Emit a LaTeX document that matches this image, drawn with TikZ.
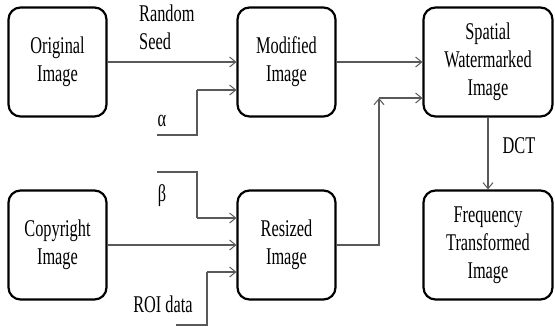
\documentclass[tikz,border=0pt]{standalone}
\usepackage{fontspec}
\setmainfont{Liberation Serif}[FakeStretch=0.68]
\usetikzlibrary{arrows.meta}
\tikzset{
  blk/.style={draw=black, line width=2.2pt, rounded corners=12pt, minimum width=98pt, minimum height=109pt, align=center, inner sep=0pt, font=\fontsize{24}{28}\selectfont},
  wblk/.style={blk, minimum width=129pt},
  conn/.style={draw=black!65, line width=1.1pt, -{Straight Barb[length=6pt,width=10pt,line width=1pt]}},
  plain/.style={draw=black!65, line width=1.1pt},
  lbl/.style={inner sep=0pt, font=\fontsize{24}{28}\selectfont}
}
\begin{document}
\begin{tikzpicture}[x=1pt, y=-1pt]
\useasboundingbox (0,0) rectangle (555,327);
\node[blk] (orig) at (57.5,62) {Original\\Image};
\node[blk] (mod) at (286.5,62) {Modified\\Image};
\node[wblk] (spat) at (488,62) {Spatial\\Watermarked\\Image};
\node[blk] (copy) at (57.5,245) {Copyright\\Image};
\node[blk] (res) at (286.5,245) {Resized\\Image};
\node[wblk] (freq) at (488,245) {Frequency\\Transformed\\Image};

\draw[conn] (orig.east) -- (mod.west);
\draw[conn] (mod.east) -- (spat.west);
\draw[conn] (copy.east) -- (res.west);
\draw[conn] (spat.south) -- (freq.north);

\node[lbl, anchor=north west, align=left] (rs) at (139,5) {Random\\Seed};
\node[lbl] (alab) at (162,121) {α};
\node[lbl] (blab) at (162,196) {β};
\node[lbl] (roi) at (163,304) {ROI data};
\node[lbl] (dct) at (519,146) {DCT};

\coordinate (a0) at (157,135);
\coordinate (a1) at (197,135);
\coordinate (a2) at (197,90);
\draw[plain] (a0) -- (a1) -- (a2);
\draw[conn] (a2) -- (mod.west |- a2);

\coordinate (b0) at (157,172);
\coordinate (b1) at (197,172);
\coordinate (b2) at (197,218);
\draw[plain] (b0) -- (b1) -- (b2);
\draw[conn] (b2) -- (res.west |- b2);

\coordinate (r0) at (176,325);
\coordinate (r1) at (207,325);
\coordinate (r2) at (207,272);
\draw[plain] (r0) -- (r1) -- (r2);
\draw[conn] (r2) -- (res.west |- r2);

\coordinate (s1) at (379,98);
\draw[conn] (res.east) -| (s1);
\draw[conn] (s1) -- (spat.west |- s1);
\end{tikzpicture}
\end{document}
